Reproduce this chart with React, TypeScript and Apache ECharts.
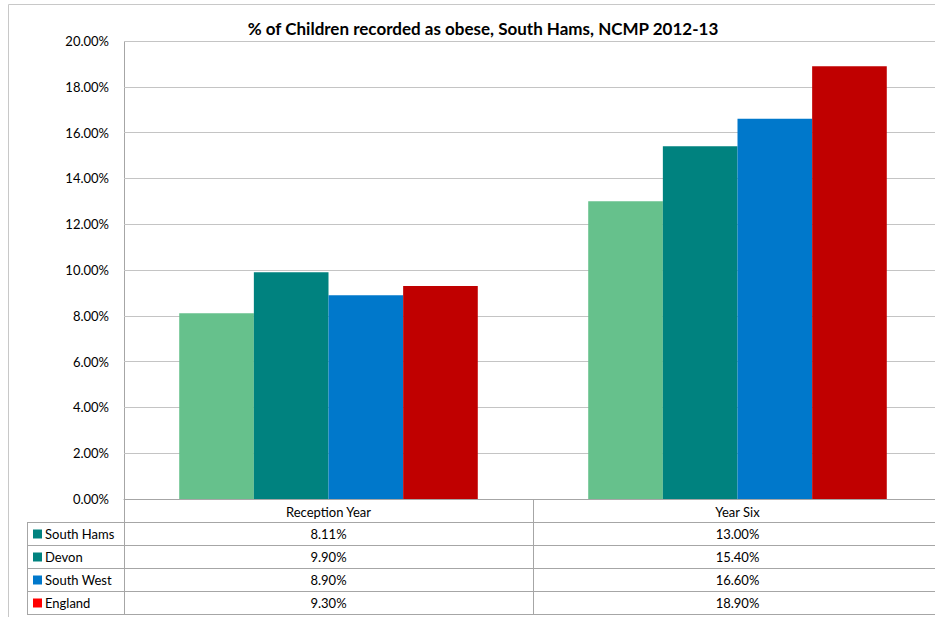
import React, { useEffect, useRef } from "react";
import * as echarts from "echarts";

const title = "% of Children recorded as obese, South Hams, NCMP 2012-13";
const categories = ["Reception Year", "Year Six"];
const seriesNames = ["South Hams", "Devon", "South West", "England"];
const southHams = [8.11, 13.0];
const devon = [9.9, 15.4];
const southWest = [8.9, 16.6];
const england = [9.3, 18.9];
const seriesValues = [southHams, devon, southWest, england];
const yMin = 0;
const yMax = 20;
const yInterval = 2;

const barColors = ["#66C18C", "#00827F", "#0078CB", "#C00000"];
const keyColors = ["#00827F", "#00827F", "#0078CB", "#FF0000"];

const FONT = "Lato, 'Noto Sans', sans-serif";

export default function App() {
  const ref = useRef<HTMLDivElement>(null);
  useEffect(() => {
    if (!ref.current) return;
    const chart = echarts.init(ref.current, undefined, { renderer: "svg" });
    const gridLeft = 124;
    const gridTop = 41;
    const gridWidth = 818;
    const gridHeight = 458;
    const gridBottomY = gridTop + gridHeight;
    const rowH = 23;
    const tableLeft = 27;
    const tableRight = 940;
    const colW = gridWidth / categories.length;
    const lineColor = "#a6a6a6";

    const graphics: any[] = [];
    graphics.push({
      type: "rect",
      shape: { x: 8.5, y: 4.5, width: 1000, height: 700 },
      style: { fill: "none", stroke: "#c8c8c8", lineWidth: 1 },
      silent: true,
    });
    graphics.push({
      type: "text",
      x: 483,
      y: 28,
      style: {
        text: title,
        fill: "#000",
        font: `bold 17px ${FONT}`,
        textAlign: "center",
        textVerticalAlign: "middle",
      },
    });
    const headerBottom = gridBottomY + rowH;
    const tableBottom = headerBottom + rowH * seriesNames.length;
    graphics.push({
      type: "line",
      shape: { x1: gridLeft + 0.5, y1: gridTop, x2: gridLeft + 0.5, y2: tableBottom },
      style: { stroke: lineColor, lineWidth: 1 },
    });
    for (let c = 1; c <= categories.length; c++) {
      const x = Math.round(gridLeft + c * colW) + 0.5;
      graphics.push({
        type: "line",
        shape: { x1: x, y1: gridBottomY, x2: x, y2: tableBottom },
        style: { stroke: lineColor, lineWidth: 1 },
      });
    }
    graphics.push({
      type: "line",
      shape: { x1: tableLeft + 0.5, y1: headerBottom, x2: tableLeft + 0.5, y2: tableBottom },
      style: { stroke: lineColor, lineWidth: 1 },
    });
    for (let r = 0; r <= seriesNames.length; r++) {
      const y = headerBottom + r * rowH + 0.5;
      graphics.push({
        type: "line",
        shape: { x1: tableLeft, y1: y, x2: tableRight, y2: y },
        style: { stroke: lineColor, lineWidth: 1 },
      });
    }
    seriesNames.forEach((name, r) => {
      const cy = headerBottom + r * rowH + rowH / 2 + 0.5;
      graphics.push({
        type: "rect",
        shape: { x: 33, y: cy - 4.5, width: 9, height: 9 },
        style: { fill: keyColors[r] },
      });
      graphics.push({
        type: "text",
        x: 45,
        y: cy,
        style: {
          text: name,
          fill: "#000",
          font: `13px ${FONT}`,
          textAlign: "left",
          textVerticalAlign: "middle",
        },
      });
      seriesValues[r].forEach((v, c) => {
        graphics.push({
          type: "text",
          x: gridLeft + (c + 0.5) * colW,
          y: cy,
          style: {
            text: v.toFixed(2) + "%",
            fill: "#000",
            font: `13px ${FONT}`,
            textAlign: "center",
            textVerticalAlign: "middle",
          },
        });
      });
    });

    chart.setOption({
      animation: false,
      grid: {
        left: gridLeft,
        top: gridTop,
        width: gridWidth,
        height: gridHeight,
        containLabel: false,
        outerBoundsMode: "none",
      },
      xAxis: {
        type: "category",
        data: categories,
        axisLine: { show: true, lineStyle: { color: lineColor } },
        axisTick: { show: false },
        axisLabel: { color: "#000", fontFamily: FONT, fontSize: 13, margin: 6 },
      },
      yAxis: {
        type: "value",
        min: yMin,
        max: yMax,
        interval: yInterval,
        axisLine: { show: false },
        axisTick: { show: false },
        axisLabel: {
          color: "#000",
          fontFamily: FONT,
          fontSize: 13,
          margin: 15,
          formatter: (v: number) => v.toFixed(2) + "%",
        },
        splitLine: { lineStyle: { color: "#c4c4c4", width: 1 } },
      },
      series: seriesNames.map((name, i) => ({
        name,
        type: "bar",
        data: seriesValues[i],
        barGap: "0%",
        barCategoryGap: "27%",
        itemStyle: { color: barColors[i] },
      })),
      graphic: graphics,
    });
    return () => chart.dispose();
  }, []);
  return (
    <div
      ref={ref}
      style={{ position: "absolute", left: 0, top: 0, width: 935, height: 617 }}
    />
  );
}
